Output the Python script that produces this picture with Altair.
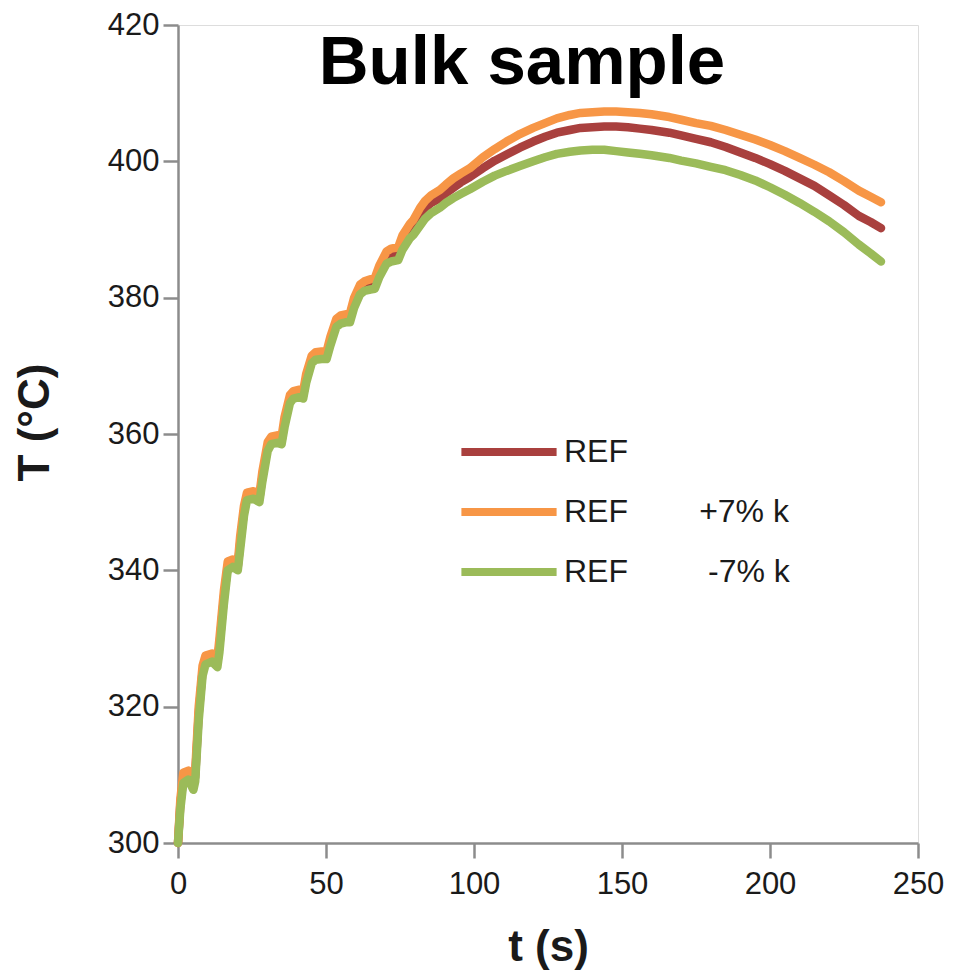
import altair as alt
import pandas as pd

# time (s)
time_s = [0, 0.8, 1.8, 3.5, 5.2, 5.8, 7, 8.3, 9.3, 11.5, 13.3, 14, 15.5, 16.8, 18.5, 20.2,
          21, 22.3, 23.3, 25.5, 27.5, 28.5, 30.3, 31.5, 33.5, 35, 36, 37.8, 39, 41, 42.3,
          43.3, 45.2, 46.5, 48.5, 50.2, 51.5, 53.5, 55, 57, 58.1, 59.5, 61.5, 63, 65, 66.5,
          68, 70.5, 72, 74.4, 75.8, 78.3, 79.5, 81.8, 83.5, 85.5, 88.5, 90.5, 93, 95.5, 98.6,
          103, 107, 111, 115.5, 120, 124, 128, 132.4, 136, 140, 144, 148, 152, 156, 160, 166,
          170, 175, 180, 185, 190, 195, 200, 205, 210, 215, 220, 225, 230, 234, 237.5]

# REF
temp_ref = [300, 305.8, 309.5, 309.9, 308.4, 309.7, 319, 325.2, 326.8, 327.2, 326.4, 329, 336,
            340.6, 341.0, 340.5, 344, 348.7, 350.8, 351.0, 350.5, 353.7, 358.1, 359.0, 359.2,
            359.0, 361.7, 365.0, 365.7, 365.9, 365.7, 368.1, 370.9, 371.4, 371.5, 371.5, 373.6,
            376.3, 376.8, 377.0, 377.0, 379.2, 381.2, 381.7, 381.9, 382.0, 383.8, 385.9, 386.2,
            386.4, 388.0, 389.8, 390.3, 392.1, 393.1, 393.9, 394.6, 395.3, 396.1, 396.9, 397.7,
            399.0, 400.1, 401.0, 402.0, 402.9, 403.6, 404.2, 404.6, 404.9, 405.0, 405.1, 405.1,
            405.0, 404.8, 404.6, 404.2, 403.8, 403.3, 402.8, 402.1, 401.3, 400.5, 399.6, 398.6,
            397.5, 396.4, 395.0, 393.6, 392.0, 391.1, 390.2]

# REF +7% k
temp_plus = [300, 306.5, 310.3, 310.6, 309.0, 310.5, 320, 326, 327.5, 327.8, 327, 330, 337,
             341.3, 341.6, 341.1, 345, 349.5, 351.4, 351.6, 351.1, 354.5, 358.8, 359.6, 359.8,
             359.6, 362.5, 365.7, 366.3, 366.5, 366.3, 368.8, 371.5, 372.0, 372.1, 372.1, 374.3,
             376.9, 377.4, 377.6, 377.7, 380.0, 381.9, 382.4, 382.7, 382.9, 384.7, 386.8, 387.2,
             387.4, 389.1, 390.8, 391.4, 393.2, 394.2, 395.0, 395.8, 396.6, 397.5, 398.2, 399.0,
             400.6, 401.8, 402.9, 404.0, 404.9, 405.6, 406.3, 406.8, 407.1, 407.2, 407.3, 407.3,
             407.2, 407.1, 406.9, 406.5, 406.1, 405.6, 405.2, 404.6, 403.9, 403.2, 402.4, 401.5,
             400.5, 399.5, 398.4, 397.1, 395.7, 394.8, 394.0]

# REF -7% k
temp_minus = [300, 305, 308.8, 309.3, 307.8, 309, 318, 324.5, 326.2, 326.6, 325.8, 328, 335,
              340, 340.5, 340, 343, 348, 350.3, 350.5, 350, 353, 357.5, 358.5, 358.7, 358.5,
              361, 364.5, 365.2, 365.4, 365.2, 367.5, 370.4, 370.9, 371, 371, 373, 375.7, 376.2,
              376.4, 376.4, 378.5, 380.5, 381, 381.2, 381.3, 383, 385, 385.3, 385.5, 387, 388.7,
              389.2, 390.6, 391.6, 392.4, 393.2, 393.9, 394.6, 395.2, 395.9, 397.0, 397.9, 398.6,
              399.3, 400.0, 400.6, 401.1, 401.4, 401.6, 401.7, 401.7, 401.5, 401.3, 401.1, 400.9,
              400.5, 400.1, 399.7, 399.2, 398.7, 398.0, 397.2, 396.2, 395.1, 393.9, 392.6, 391.2,
              389.6, 387.8, 386.5, 385.3]

NB = "\u00a0"
series_names = ["REF", "REF" + NB * 8 + "+7% k", "REF" + NB * 9 + "-7% k"]
series_colors = ["#A9403E", "#F79646", "#9BBB59"]
x_ticks = [0, 50, 100, 150, 200, 250]
y_ticks = [300, 320, 340, 360, 380, 400, 420]
chart_title = ["Bulk sample"]

rows = []
for name, vals in zip(series_names, [temp_ref, temp_plus, temp_minus]):
    for t, v in zip(time_s, vals):
        rows.append({"t": t, "T": v, "series": name})
df = pd.DataFrame(rows)

FONT = "Liberation Sans, Arial, sans-serif"
AXIS_COLOR = "#8C8C8C"
TEXT_COLOR = "#1A1A1A"

lines = alt.Chart(df).mark_line(
    strokeWidth=8.5, strokeCap="round", strokeJoin="round"
).encode(
    x=alt.X("t:Q",
            scale=alt.Scale(domain=[0, 250], nice=False),
            axis=alt.Axis(values=x_ticks, title="t (s)", grid=False,
                          domainColor=AXIS_COLOR, domainWidth=2.5,
                          tickColor=AXIS_COLOR, tickWidth=2.5, tickSize=15,
                          labelFont=FONT, labelFontSize=31, labelColor=TEXT_COLOR,
                          labelPadding=11, labelFlush=False,
                          titleFont=FONT, titleFontSize=44, titleFontWeight="bold",
                          titleColor=TEXT_COLOR, titleBaseline="alphabetic",
                          titleY=117)),
    y=alt.Y("T:Q",
            scale=alt.Scale(domain=[300, 420], nice=False, zero=False),
            axis=alt.Axis(values=y_ticks, title="T (°C)", grid=False,
                          domainColor=AXIS_COLOR, domainWidth=2.5,
                          tickColor=AXIS_COLOR, tickWidth=2.5, tickSize=15,
                          labelFont=FONT, labelFontSize=31, labelColor=TEXT_COLOR,
                          labelPadding=4, labelFlush=False,
                          titleFont=FONT, titleFontSize=44, titleFontWeight="bold",
                          titleColor=TEXT_COLOR, titleBaseline="alphabetic",
                          titleAngle=270, titleX=-130, titleY=397)),
    color=alt.Color("series:N",
                    scale=alt.Scale(domain=series_names, range=series_colors),
                    legend=alt.Legend(title=None, orient="none", legendX=287, legendY=383,
                                      symbolType="M-1.19,0H1.19", symbolSize=6400,
                                      symbolStrokeWidth=8, symbolFillColor="transparent",
                                      labelFont=FONT,
                                      labelFontSize=32, labelColor=TEXT_COLOR,
                                      labelOffset=11, labelLimit=0, padding=0,
                                      rowPadding=0)),
)

title_text = alt.Chart(pd.DataFrame({"label": chart_title})).mark_text(
    font=FONT, fontSize=69, fontWeight="bold", color="black",
    align="center", baseline="alphabetic"
).encode(
    x=alt.value(344), y=alt.value(59), text="label:N"
)

chart = alt.layer(lines, title_text).properties(
    width=740,
    height=818,
    padding={"left": 178, "top": 25, "right": 39, "bottom": 127},
    autosize=alt.AutoSizeParams(type="none"),
).configure_view(stroke=None).configure(background="white")

chart.save("out.html", embed_options={"renderer": "svg", "actions": False})
